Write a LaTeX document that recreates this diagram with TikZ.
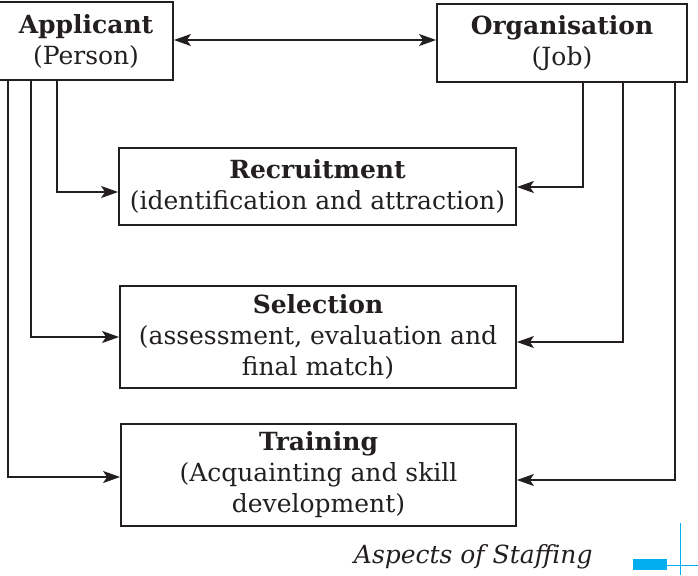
\documentclass[tikz,border=0pt]{standalone}
\usepackage{fontspec}
\setmainfont{DejaVu Serif}
\usepackage{tikz}
\usetikzlibrary{arrows.meta,positioning,calc}
\definecolor{cink}{HTML}{231F20}
\definecolor{cmark}{HTML}{00AEEF}
\tikzset{
  sbox/.style={draw=cink, line width=0.9pt, align=center, inner sep=0pt,
               text=cink, font=\fontsize{12.5}{15.5}\selectfont},
  flow/.style={-{Stealth[length=8.5pt, width=6pt, inset=2pt]}, draw=cink, line width=0.8pt},
  flowb/.style={{Stealth[length=8.5pt, width=6pt, inset=2pt]}-{Stealth[length=8.5pt, width=6pt, inset=2pt]},
                draw=cink, line width=0.8pt},
  captxt/.style={text=cink, inner sep=0pt, font=\fontsize{12.5}{15}\selectfont\itshape},
}

\begin{document}
\begin{tikzpicture}[x=0.5pt, y=-0.5pt]
  \useasboundingbox (0,0) rectangle (698,575);
  % person and job
  \node[sbox, minimum width=87pt, minimum height=39pt] (app) at (86,41) {\textbf{Applicant}\\(Person)};
  \node[sbox, minimum width=125pt, minimum height=39pt] (org) at (562,43) {\textbf{Organisation}\\(Job)};
  \draw[flowb] ([yshift=0.5pt]app.east) -- ([yshift=0.5pt]app.east -| org.west);
  % staffing steps
  \node[sbox, minimum width=198.5pt, minimum height=38.5pt] (rec) at (317.5,186.5) {\textbf{Recruitment}\\(identification and attraction)};
  \node[sbox, minimum width=198pt, minimum height=51pt] (sel) at (318,337) {\textbf{Selection}\\(assessment, evaluation and\\final match)};
  \node[sbox, minimum width=197.5pt, minimum height=51pt] (trn) at (318.5,475) {\textbf{Training}\\(Acquainting and skill\\development)};
  % from the applicant
  \draw[flow] (app.south -| 57,0) |- ([yshift=-2.75pt]rec.west);
  \draw[flow] (app.south -| 31,0) |- (sel.west);
  \draw[flow] (app.south -| 8,0) |- ([yshift=-1pt]trn.west);
  % from the organisation
  \draw[flow] (org.south -| 583,0) |- ([yshift=-0.25pt]rec.east);
  \draw[flow] (org.south -| 623,0) |- ([yshift=-2.5pt]sel.east);
  \draw[flow] (org.south -| 675,0) |- ([yshift=-2.5pt]trn.east);
  % caption and page mark
  \node[captxt, anchor=base east] (title) at (593,563) {Aspects of Staffing};
  \fill[cmark] (633,559) rectangle (667,570);
  \draw[cmark, line width=0.5pt] (667,565) -- (698,565);
  \draw[cmark, line width=0.5pt] (680,523) -- (680,575);
\end{tikzpicture}
\end{document}
